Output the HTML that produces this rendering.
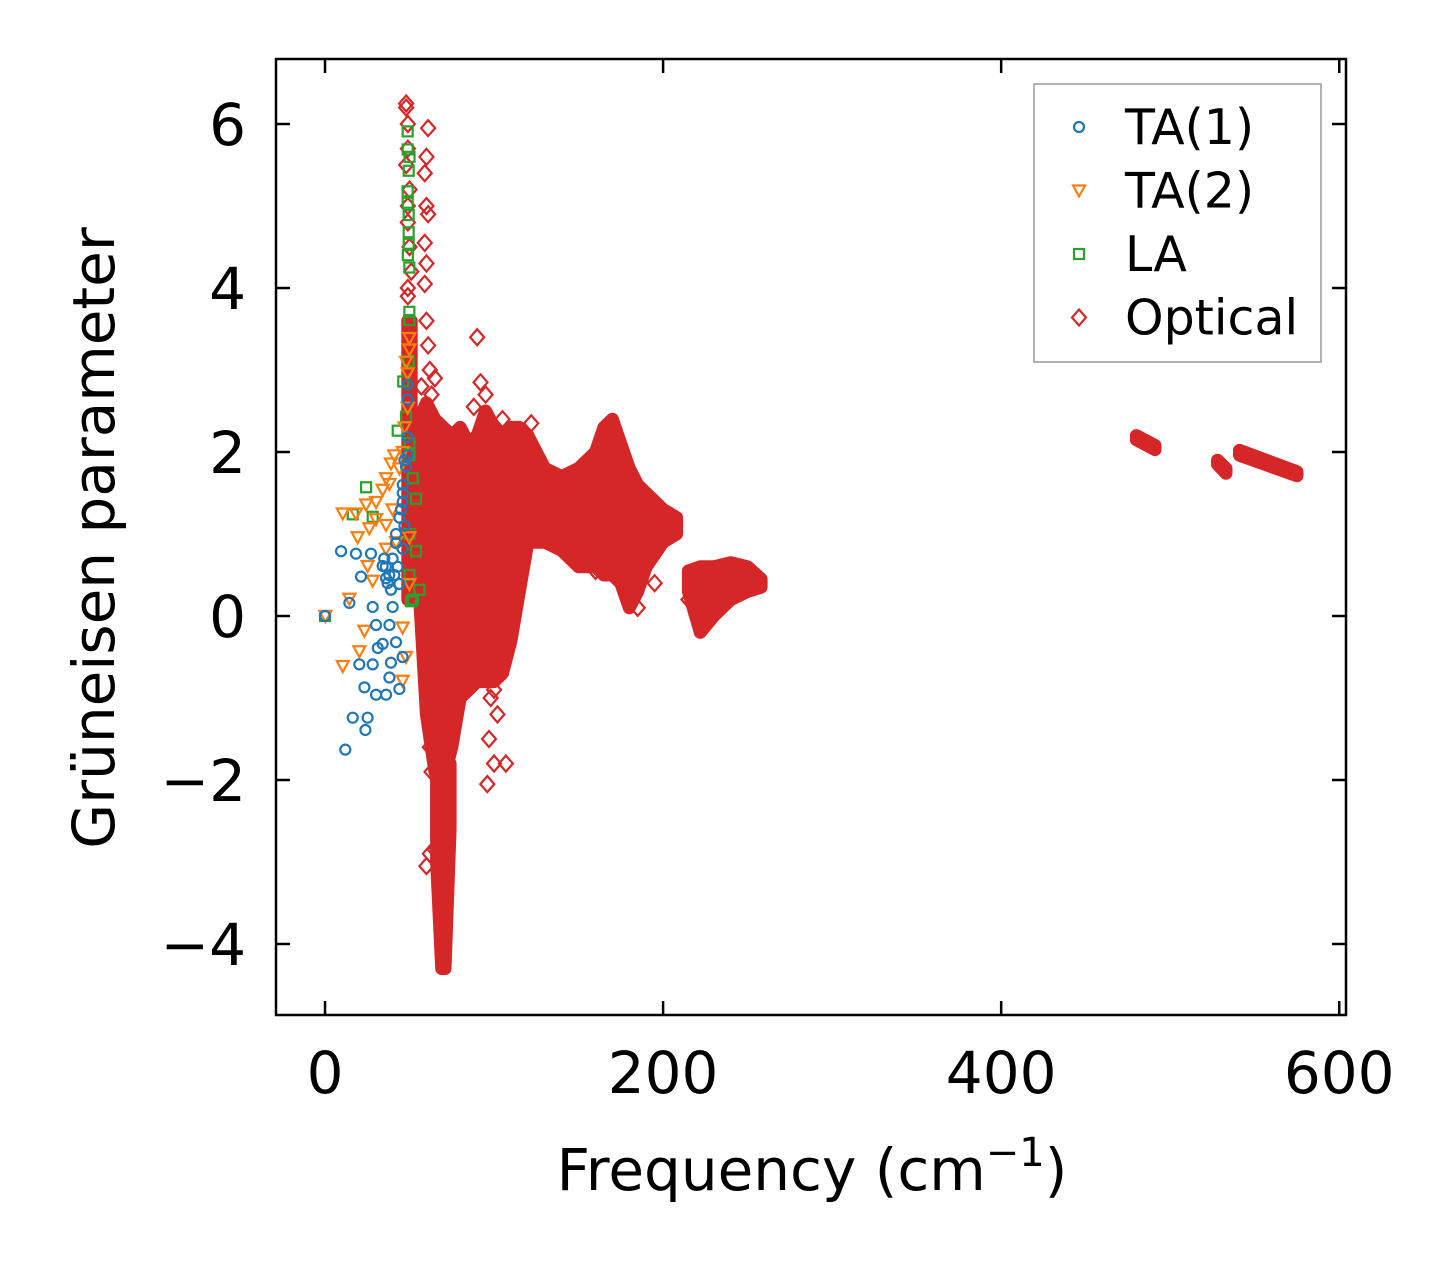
<!DOCTYPE html>
<html><head><meta charset="utf-8"><style>
html,body{margin:0;padding:0;background:#fff}
svg{display:block}
text{font-family:"DejaVu Sans","Liberation Sans",sans-serif;fill:#000}
</style></head><body>
<svg id="chart" width="1455" height="1264" viewBox="0 0 1455 1264" xmlns="http://www.w3.org/2000/svg">
<rect x="0" y="0" width="1455" height="1264" fill="#fff"/>
<g id="plot"></g>
<g id="axes"></g>
<g id="legend"></g>
</svg>
<script>
const xTicks=[0,200,400,600];
const yTicks=[-4,-2,0,2,4,6];
const yTickLabels=["\u22124","\u22122","0","2","4","6"];
const ta1=[[0,0],[9.5,0.79],[18.3,0.76],[21.3,0.48],[14.4,0.16],[16.4,-1.24],[25.2,-1.24],[23.9,-1.39],[12,-1.63],[23.3,-0.87],[20.3,-0.59],[28.2,-0.59],[31.2,-0.39],[34.1,-0.34],[39,-0.57],[38.1,-0.75],[44,-0.89],[30.2,-0.96],[36.1,-0.96],[42,-0.32],[45.9,-0.5],[28.2,0.11],[30.2,-0.11],[38.1,-0.11],[40,0.11],[39,0.32],[36.1,0.46],[44,0.39],[45.9,0.82],[42,0.89],[45.9,1.39],[47.9,1.82],[48.9,1.96],[48.9,2.18],[48.9,2.64],[48.9,2.82],[27.2,0.76],[34.1,0.61],[36,0.6],[38,0.5],[40,0.7],[42,1.0],[44,1.2],[45,1.3],[46,1.5],[47,1.1],[43,0.6],[37,0.4],[35,0.7],[41,0.5],[46,1.6],[47,1.9]];
const ta2=[[10.5,1.25],[18.3,1.25],[24.3,1.36],[30.2,1.39],[34.1,1.54],[38.1,1.61],[41,1.96],[39,1.86],[19.3,0.96],[26.2,1.07],[30.2,1.18],[36.1,1.11],[25.2,0.61],[28.2,0.43],[36.1,0.82],[14.4,0.21],[0.2,0],[10.5,-0.61],[20.3,-0.43],[23.3,-0.18],[45.9,-0.79],[47.9,-0.5],[45.9,-0.14],[49.9,0.39],[49.9,0.96],[48.9,2.54],[48.9,2.96],[49.9,3.25],[49.9,3.39],[36.1,1.68],[44,1.8],[46,2.0],[47,2.3],[48,3.1],[42,0.9],[40,1.3]];
const la=[[0,0],[48.9,5.91],[48.9,5.69],[49.5,5.43],[48.9,5.18],[48.9,5.04],[49.5,4.89],[49.5,4.68],[49.5,4.54],[49.9,4.25],[49.9,3.71],[49.9,3.61],[49.5,3.11],[46.3,2.86],[47.9,2.43],[43,2.26],[24.3,1.57],[16.4,1.24],[28.2,1.21],[49.9,1.96],[51.9,1.68],[53.8,1.43],[53.8,0.79],[55.8,0.32],[50.9,0.18],[49.9,2.11],[50,5.6],[49,4.4],[50,1.0],[50,0.5],[52,0.2]];
const optBandFreq=[56,60,65,70,75,80,85,90,95,100,105,110,115,120,125,130,140,150,160,165,170,175,180,185,190,200,208];
const optBandHi=[2.4,2.6,2.4,2.3,2.2,2.3,2.1,2.2,2.5,2.3,2.2,2.3,2.3,2.2,2.0,1.8,1.7,1.8,2.0,2.3,2.4,2.1,1.8,1.6,1.5,1.3,1.2];
const optBandLo=[0.2,-1.2,-1.9,-2.0,-1.6,-1.0,-0.9,-0.8,-0.8,-0.8,-0.7,-0.3,0.3,0.9,0.9,0.9,0.8,0.6,0.6,0.5,0.5,0.4,0.1,0.3,0.6,0.9,1.0];
const opt2Freq=[215,222,230,240,250,258];
const opt2Hi=[0.55,0.6,0.6,0.65,0.6,0.45];
const opt2Lo=[0.3,-0.2,0.0,0.2,0.3,0.35];
const spikeFreq=[66,69,71,74];
const spikeHi=[-1.8,-1.8,-1.8,-1.8];
const spikeLo=[-3.0,-4.3,-4.3,-2.6];
const colFreq=[49,51];
const colHi=[3.6,3.6];
const colLo=[0.2,0.2];
const hf1Freq=[480,491];
const hf1Hi=[2.2,2.08];
const hf1Lo=[2.15,2.03];
const hf2Freq=[528,533];
const hf2Hi=[1.9,1.8];
const hf2Lo=[1.85,1.74];
const hf3Freq=[541,575];
const hf3Hi=[2.02,1.76];
const hf3Lo=[1.96,1.71];
const optPts=[[48,6.25],[48,6.2],[49,6.0],[61,5.95],[60,5.6],[59,5.4],[49,5.7],[50,5.2],[60,5.0],[61,4.9],[59,4.55],[60,4.3],[59,4.05],[49,3.9],[60,3.6],[61,3.3],[62,3.0],[57,2.8],[90,3.4],[92,2.85],[95,2.7],[88,2.55],[105,2.4],[122,2.35],[65,2.9],[63,2.7],[100,-0.9],[98,-1.0],[102,-1.2],[97,-1.5],[100,-1.8],[96,-2.05],[107,-1.8],[60,-3.05],[62,-2.9],[65,-2.85],[70,-2.9],[148,0.8],[160,0.55],[165,0.7],[185,0.1],[195,0.4],[215,0.2],[220,0.0],[62,-1.6],[63,-1.9],[49,4.8],[50,4.5],[48,5.5],[49,5.0],[51,4.2],[49,4.0]];
const legendLabels=["TA(1)","TA(2)","LA","Optical"];

const X0=276,X1=1346,Y0=59,Y1=1015;
const xMin=-29,xMax=604,yMin=-4.866,yMax=6.793;
const sx=v=>X0+(v-xMin)/(xMax-xMin)*(X1-X0);
const sy=v=>Y1-(v-yMin)/(yMax-yMin)*(Y1-Y0);
const NS="http://www.w3.org/2000/svg";
function mk(tag,attrs,parent){const e=document.createElementNS(NS,tag);for(const k in attrs)e.setAttribute(k,attrs[k]);parent.appendChild(e);return e;}
const plot=document.getElementById('plot'),axes=document.getElementById('axes'),leg=document.getElementById('legend');
const RED="#d62728",BLUE="#1f77b4",ORANGE="#ff7f0e",GREEN="#2ca02c";
function band(f,hi,lo,name){
  let d="";
  f.forEach((v,i)=>{d+=(i?"L":"M")+sx(v).toFixed(1)+","+sy(hi[i]).toFixed(1);});
  for(let i=f.length-1;i>=0;i--)d+="L"+sx(f[i]).toFixed(1)+","+sy(lo[i]).toFixed(1);
  const p=mk('path',{d:d+"Z",fill:RED,stroke:RED,'stroke-width':13,'stroke-linejoin':'round'},plot);
  
  
}
function diamond(cx,cy,g){return mk('path',{d:`M${cx},${cy-8}L${cx+7},${cy}L${cx},${cy+8}L${cx-7},${cy}Z`,fill:'none',stroke:RED,'stroke-width':2.2},g);}
function circle(cx,cy,g){return mk('circle',{cx:cx,cy:cy,r:5,fill:'none',stroke:BLUE,'stroke-width':2.2},g);}
function tri(cx,cy,g){return mk('path',{d:`M${cx-6},${cy-5}L${cx+6},${cy-5}L${cx},${cy+6}Z`,fill:'none',stroke:ORANGE,'stroke-width':2.2},g);}
function sq(cx,cy,g){return mk('rect',{x:cx-5,y:cy-5,width:10,height:10,fill:'none',stroke:GREEN,'stroke-width':2.2},g);}

const gO=mk('g',{},plot);


band(optBandFreq,optBandHi,optBandLo,'optical-main-cloud');
band(opt2Freq,opt2Hi,opt2Lo,'optical-cloud-220');
band(spikeFreq,spikeHi,spikeLo,'optical-negative-spike');
band(colFreq,colHi,colLo,'optical-column-50');
band(hf1Freq,hf1Hi,hf1Lo,'optical-branch-485');
band(hf2Freq,hf2Hi,hf2Lo,'optical-branch-530');
band(hf3Freq,hf3Hi,hf3Lo,'optical-branch-560');
optPts.forEach(p=>{const e=diamond(sx(p[0]),sy(p[1]),gO);});
const gL=mk('g',{},plot);


la.forEach(p=>{const e=sq(sx(p[0]),sy(p[1]),gL);});
const g2=mk('g',{},plot);


ta2.forEach(p=>{const e=tri(sx(p[0]),sy(p[1]),g2);});
const g1=mk('g',{},plot);


ta1.forEach(p=>{const e=circle(sx(p[0]),sy(p[1]),g1);});

const fr=mk('rect',{x:X0,y:Y0,width:X1-X0,height:Y1-Y0,fill:'none',stroke:'#000','stroke-width':2.5},axes);


xTicks.forEach(v=>{
  const x=sx(v);
  mk('line',{x1:x,y1:Y1,x2:x,y2:Y1-14,stroke:'#000','stroke-width':2.5},axes);
  mk('line',{x1:x,y1:Y0,x2:x,y2:Y0+14,stroke:'#000','stroke-width':2.5},axes);
  const t=mk('text',{x:x,y:Y1+78,'font-size':58,'text-anchor':'middle'},axes);
  t.textContent=String(v);
  
  
});
yTicks.forEach((v,i)=>{
  const y=sy(v);
  mk('line',{x1:X0,y1:y,x2:X0+14,y2:y,stroke:'#000','stroke-width':2.5},axes);
  mk('line',{x1:X1,y1:y,x2:X1-14,y2:y,stroke:'#000','stroke-width':2.5},axes);
  const t=mk('text',{x:X0-30,y:y+21,'font-size':58,'text-anchor':'end'},axes);
  t.textContent=yTickLabels[i];
  
  
});
const xl=mk('text',{x:812,y:1190,'font-size':58,'text-anchor':'middle'},axes);


xl.innerHTML='Frequency (cm<tspan dy="-24" font-size="40">\u22121</tspan><tspan dy="24">)</tspan>';
const yl=mk('text',{x:0,y:0,'font-size':58,'text-anchor':'middle',transform:'translate(114,538) rotate(-90)'},axes);
yl.textContent='Grüneisen parameter';



const lb=mk('rect',{x:1034,y:84,width:287,height:278,fill:'#fff',stroke:'#999','stroke-width':1.5},leg);


const drawers=[circle,tri,sq,diamond];
legendLabels.forEach((lab,i)=>{
  const y=127+i*63.5;
  const g=mk('g',{},leg);
  
  
  drawers[i](1079,y,g);
  const t=mk('text',{x:1125,y:y+17,'font-size':49},g);
  t.textContent=lab;
});
</script>
</body></html>
